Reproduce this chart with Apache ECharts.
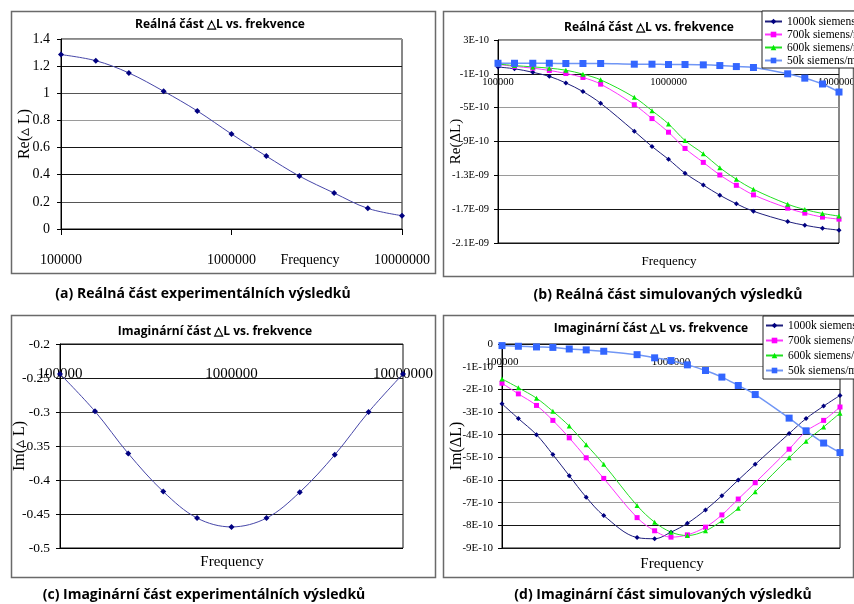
<!DOCTYPE html>
<html><head><meta charset="utf-8">
<script src="https://cdn.jsdelivr.net/npm/echarts@6/dist/echarts.min.js"></script>
<style>html,body{margin:0;padding:0;background:#fff}#c{width:854px;height:604px}</style>
</head><body><div id="c"></div>
<script>
// ---------- data ----------
const xTickLabels = ['100000', '1000000', '10000000'];

// experimental (panels a, c)
const freqExp = [100000, 160000, 250000, 400000, 630000, 1000000, 1600000, 2500000, 4000000, 6300000, 10000000];
const reExp = [1.285, 1.24, 1.15, 1.015, 0.87, 0.70, 0.537, 0.39, 0.265, 0.152, 0.098];
const imExp = [-0.244, -0.299, -0.361, -0.417, -0.456, -0.469, -0.456, -0.418, -0.363, -0.300, -0.244];

// simulated (panels b, d), values in units of 1E-10
const freqSim = [100000, 125000, 160000, 200000, 250000, 315000, 400000, 630000, 800000, 1000000, 1250000, 1600000, 2000000, 2500000, 3150000, 5000000, 6300000, 8000000, 10000000];
const seriesNames = ['1000k siemens/m', '700k siemens/m', '600k siemens/m', '50k siemens/m'];
const reSim1000 = [-0.2, -0.4, -0.82, -1.3, -2.08, -3.1, -4.48, -7.78, -9.59, -11.1, -12.75, -14.15, -15.35, -16.36, -17.25, -18.47, -18.9, -19.25, -19.48];
const reSim700 = [0.12, -0.12, -0.33, -0.6, -0.96, -1.43, -2.22, -4.65, -6.29, -7.9, -9.82, -11.47, -12.96, -14.18, -15.31, -16.88, -17.47, -17.94, -18.18];
const reSim600 = [0.16, -0.02, -0.18, -0.33, -0.57, -1.04, -1.71, -3.78, -5.35, -6.92, -8.88, -10.45, -12.1, -13.47, -14.65, -16.41, -17.04, -17.51, -17.82];
const reSim50 = [0.25, 0.25, 0.25, 0.25, 0.22, 0.22, 0.22, 0.14, 0.14, 0.1, 0.1, 0.06, -0.02, -0.14, -0.25, -1.0, -1.51, -2.2, -3.15];
const imSim1000 = [-2.64, -3.29, -4.0, -4.88, -5.81, -6.76, -7.57, -8.54, -8.59, -8.30, -7.91, -7.32, -6.69, -6.0, -5.31, -3.95, -3.29, -2.74, -2.27];
const imSim700 = [-1.73, -2.20, -2.71, -3.37, -4.14, -5.02, -5.93, -7.66, -8.24, -8.52, -8.42, -8.08, -7.54, -6.84, -6.12, -4.64, -3.85, -3.37, -2.78];
const imSim600 = [-1.54, -1.93, -2.39, -2.97, -3.62, -4.44, -5.31, -7.13, -7.86, -8.30, -8.45, -8.24, -7.80, -7.25, -6.52, -5.02, -4.29, -3.66, -3.05];
const imSim50 = [-0.07, -0.10, -0.13, -0.15, -0.22, -0.26, -0.32, -0.47, -0.61, -0.73, -0.92, -1.17, -1.46, -1.83, -2.23, -3.27, -3.83, -4.37, -4.79];

// tick labels
const yTicksB = ['-2.1E-09', '-1.7E-09', '-1.3E-09', '-9E-10', '-5E-10', '-1E-10', '3E-10'];
const yTicksD = ['0', '-1E-10', '-2E-10', '-3E-10', '-4E-10', '-5E-10', '-6E-10', '-7E-10', '-8E-10', '-9E-10'];

// text
const titleRe = 'Reálná část △L vs. frekvence';
const titleIm = 'Imaginární část △L vs. frekvence';
const captions = ['(a) Reálná část experimentálních výsledků', '(b) Reálná část simulovaných výsledků',
  '(c) Imaginární část experimentálních výsledků', '(d) Imaginární část simulovaných výsledků'];
const xName = 'Frequency';

// ---------- chart ----------
const SERIF = 'Liberation Serif';
const pairs = (xs, ys) => xs.map((x, i) => [x, ys[i]]);
const xFmt = v => xTickLabels[Math.round(Math.log10(v)) - 5];
const DK = '#161616', GR = '#9a9a9a';

const gridBase = {show: true, borderColor: '#111', borderWidth: 1, containLabel: false, outerBoundsMode: 'none'};
const grids = [
  Object.assign({left: 61, top: 39, width: 341, height: 190}, gridBase),
  Object.assign({left: 498, top: 40, width: 341, height: 203}, gridBase),
  Object.assign({left: 60, top: 344, width: 343, height: 204}, gridBase),
  Object.assign({left: 502, top: 344, width: 338, height: 204}, gridBase)
];

function mkX(gi, o) {
  return {
    type: 'log', logBase: 10, gridIndex: gi, min: 1e5, max: 1e7,
    position: o.position, splitLine: {show: false}, minorTick: {show: false},
    axisLine: {show: o.line, onZero: false, lineStyle: {color: '#000', width: 1}},
    axisTick: {show: o.tick, length: 6, lineStyle: {color: '#000'}},
    axisLabel: {formatter: xFmt, inside: o.inside, margin: o.margin, fontFamily: SERIF, fontSize: o.fs, color: '#000'}
  };
}
function mkY(gi, o) {
  return Object.assign({
    type: 'value', gridIndex: gi, position: 'left',
    axisLine: {show: true, onZero: false, lineStyle: {color: '#000'}},
    axisTick: {show: true, length: 4, lineStyle: {color: '#000'}},
    splitLine: {show: true, lineStyle: {color: o.colors, width: 1}},
    axisLabel: {fontFamily: SERIF, fontSize: o.fs, color: '#000', margin: o.margin, formatter: o.formatter},
    name: o.name, nameLocation: 'middle', nameGap: o.nameGap, nameMoveOverlap: false,
    nameTextStyle: {fontFamily: SERIF, fontSize: o.nameFs, color: '#000'}
  }, o.extra);
}

const simStyles = [
  {symbol: 'diamond', size: 5, color: '#000080', line: '#1e1e7c', w: 1},
  {symbol: 'rect', size: 5, color: '#ff00ff', line: '#ff33ff', w: 1},
  {symbol: 'triangle', size: 5, color: '#00ee00', line: '#22e022', w: 1},
  {symbol: 'rect', size: 7, color: '#3366ff', line: '#7096f5', w: 1.5}
];
function mkSeries(name, data, xi, yi, st) {
  return {
    type: 'line', name: name, xAxisIndex: xi, yAxisIndex: yi, data: data, smooth: 0.35,
    symbol: st.symbol, symbolSize: st.size, showSymbol: true,
    itemStyle: {color: st.color}, lineStyle: {color: st.line, width: st.w},
    emphasis: {disabled: true}
  };
}
const reSim = [reSim1000, reSim700, reSim600, reSim50];
const imSim = [imSim1000, imSim700, imSim600, imSim50];
const series = [
  mkSeries('exp-re', pairs(freqExp, reExp), 0, 0, {symbol: 'diamond', size: 6, color: '#000080', line: '#4646a8', w: 1}),
  mkSeries('exp-im', pairs(freqExp, imExp), 2, 3, {symbol: 'diamond', size: 6, color: '#000080', line: '#4646a8', w: 1})
];
seriesNames.forEach((n, i) => series.push(mkSeries(n, pairs(freqSim, reSim[i]), 1, 1, simStyles[i])));
seriesNames.forEach((n, i) => series.push(mkSeries(n, pairs(freqSim, imSim[i]), 3, 4, simStyles[i])));

const legendBase = {
  data: seriesNames, orient: 'vertical', backgroundColor: '#fff', borderColor: '#222', borderWidth: 1,
  itemWidth: 17, itemHeight: 7, itemGap: 0, selectedMode: false
};

function txt(x, y, text, font) {
  return {type: 'text', x: x, y: y, z: 50, silent: true,
    style: {text: text, font: font, fill: '#000', align: 'center', verticalAlign: 'middle'}};
}
function box(x, y, w, h) {
  return {type: 'rect', z: 1, silent: true, shape: {x: x, y: y, width: w, height: h},
    style: {fill: null, stroke: '#6a6a6a', lineWidth: 1.5}};
}
const TF = 'bold 12px "Open Sans"', CF = 'bold 14px "Open Sans"';

const option = {
  animation: false,
  backgroundColor: '#fff',
  grid: grids,
  xAxis: [
    mkX(0, {position: 'bottom', line: true, tick: true, inside: false, margin: 24, fs: 14}),
    mkX(1, {position: 'top', line: false, tick: false, inside: true, margin: 37, fs: 10.5}),
    mkX(2, {position: 'top', line: false, tick: false, inside: true, margin: 23, fs: 15}),
    mkX(3, {position: 'top', line: false, tick: false, inside: true, margin: 13, fs: 11})
  ],
  yAxis: [
    mkY(0, {colors: ['#000', '#555', DK, DK, GR, '#555', DK, GR], fs: 14, margin: 11, name: 'Re(▵ L)', nameGap: 28, nameFs: 16,
      extra: {min: 0, max: 1.4, interval: 0.2}}),
    {type: 'value', gridIndex: 1, min: -21, max: 3, show: false},
    mkY(1, {colors: [DK, DK, GR, DK, GR, DK, GR], fs: 10.5, margin: 9, name: 'Re(ΔL)', nameGap: 34, nameFs: 15,
      formatter: v => yTicksB[Math.round(v / 4)], extra: {min: 0, max: 24, interval: 4}}),
    mkY(2, {colors: ['#000', DK, '#444', GR, '#444', DK, DK], fs: 13.5, margin: 10, name: 'Im(▵ L)', nameGap: 32, nameFs: 16,
      extra: {min: -0.5, max: -0.2, interval: 0.05}}),
    mkY(3, {colors: [DK, DK, GR, DK, GR, DK, GR, DK, GR, DK], fs: 11, margin: 9, name: 'Im(ΔL)', nameGap: 37, nameFs: 16,
      formatter: v => yTicksD[Math.round(-v)], extra: {min: -9, max: 0, interval: 1}})
  ],
  legend: [
    Object.assign({left: 762, top: 11}, legendBase, {padding: [4, 4, 1, 2], textStyle: {fontFamily: SERIF, fontSize: 11.5, color: '#000', lineHeight: 13}}),
    Object.assign({left: 763, top: 316}, legendBase, {padding: [2, 4, 1, 2], textStyle: {fontFamily: SERIF, fontSize: 11.5, color: '#000', lineHeight: 15}})
  ],
  graphic: [
    box(11.5, 11.5, 424, 262), box(443.5, 11.5, 410, 265), box(11.5, 315.5, 424, 262), box(443.5, 315.5, 410, 262),
    txt(220, 25, titleRe, TF), txt(649, 28, titleRe, TF), txt(215, 332, titleIm, TF), txt(651, 329, titleIm, TF),
    txt(203, 294, captions[0], CF), txt(668, 295, captions[1], CF), txt(204, 595, captions[2], CF), txt(663, 595, captions[3], CF),
    txt(310, 260, xName, '14px "Liberation Serif"'), txt(669, 262, xName, '13px "Liberation Serif"'),
    txt(232, 562, xName, '15px "Liberation Serif"'), txt(672, 564, xName, '15px "Liberation Serif"')
  ],
  series: series
};
const chart = echarts.init(document.getElementById('c'), null, {renderer: 'canvas'});
chart.setOption(option);
</script></body></html>
